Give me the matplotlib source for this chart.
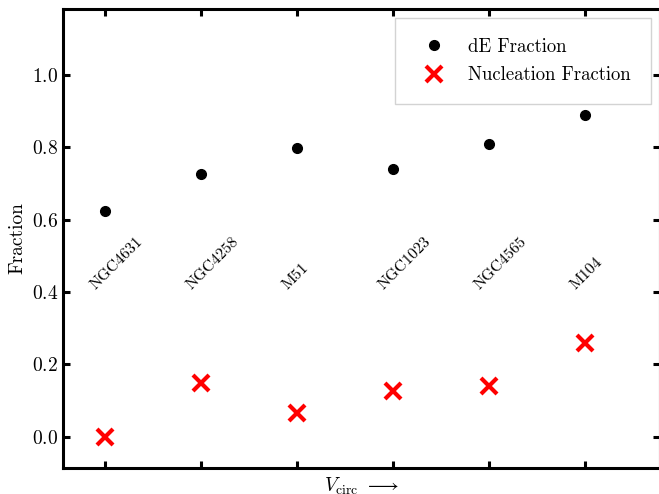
import numpy as np
import matplotlib
matplotlib.use("Agg")
import matplotlib.pyplot as plt

plt.rcParams['font.family'] = 'cmr10'
plt.rcParams['mathtext.fontset'] = 'cm'
plt.rcParams['axes.formatter.use_mathtext'] = True
plt.rcParams['axes.unicode_minus'] = False

galaxies = ["NGC4631", "NGC4258", "M51", "NGC1023", "NGC4565", "M104"]
de_frac = [0.624, 0.727, 0.799, 0.741, 0.809, 0.889]
nuc_frac = [0.0, 0.149, 0.066, 0.127, 0.141, 0.260]

x = np.arange(len(galaxies))

fig = plt.figure(figsize=(6.59, 4.94), dpi=100)
ax = fig.add_axes([63 / 659, 26 / 494, 597 / 659, 459 / 494])

ax.plot(x, de_frac, 'o', color='black', markersize=7, label='dE Fraction')
ax.plot(x, nuc_frac, 'x', color='red', markersize=12, markeredgewidth=3,
        label='Nucleation Fraction')

# galaxy names written inside the plot above each column
for i, name in enumerate(galaxies):
    ax.text(i - 0.18, 0.40, name, rotation=45, ha='left', va='bottom', fontsize=11.5)

ax.set_xlim(-0.44, 5.78)
ax.set_ylim(-0.086, 1.182)
ax.set_xticks(x)
ax.set_xticklabels([])
ax.set_yticks([0.0, 0.2, 0.4, 0.6, 0.8, 1.0])
ax.tick_params(direction='in', length=5, width=2.2, top=True, right=True, labelsize=14)
for s in ax.spines.values():
    s.set_linewidth(2.2)

ax.set_ylabel('Fraction', fontsize=14)
ax.set_xlabel(r'$V_{\rm circ}$ $\longrightarrow$', fontsize=14, labelpad=2)

leg = ax.legend(loc='upper right', fontsize=13.5, fancybox=False, framealpha=1,
                edgecolor='lightgray', borderpad=1.05, labelspacing=0.55,
                handletextpad=0.85)
leg.get_frame().set_linewidth(1)

fig.savefig('out.png', dpi=100)
